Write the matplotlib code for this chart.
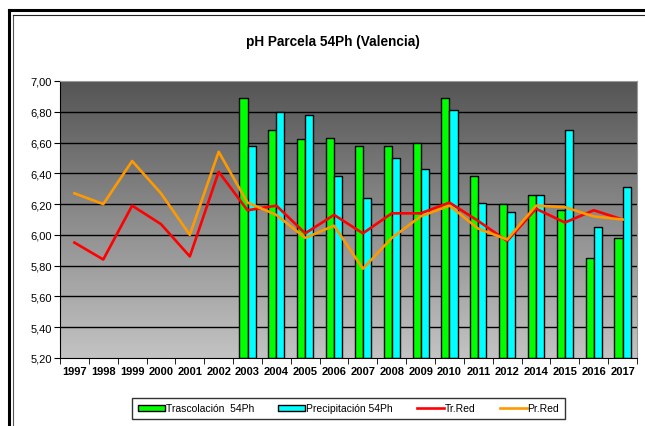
import numpy as np
import matplotlib.pyplot as plt
from matplotlib.lines import Line2D
from matplotlib.patches import Patch

plt.rcParams['font.family'] = ['Liberation Sans', 'DejaVu Sans']

years = ["1997", "1998", "1999", "2000", "2001", "2002", "2003", "2004", "2005", "2006",
         "2007", "2008", "2009", "2010", "2011", "2012", "2014", "2015", "2016", "2017"]
trascolacion = [None, None, None, None, None, None, 6.89, 6.68, 6.62, 6.63,
                6.58, 6.58, 6.60, 6.89, 6.38, 6.20, 6.26, 6.16, 5.85, 5.98]
precipitacion = [None, None, None, None, None, None, 6.58, 6.80, 6.78, 6.38,
                 6.24, 6.50, 6.43, 6.81, 6.21, 6.15, 6.26, 6.68, 6.05, 6.31]
tr_red = [5.95, 5.84, 6.19, 6.07, 5.86, 6.41, 6.16, 6.19, 6.01, 6.13,
          6.01, 6.14, 6.14, 6.21, 6.09, 5.96, 6.17, 6.08, 6.16, 6.10]
pr_red = [6.27, 6.20, 6.48, 6.27, 6.00, 6.54, 6.21, 6.13, 5.98, 6.06,
          5.78, 5.98, 6.12, 6.19, 6.04, 5.97, 6.19, 6.18, 6.12, 6.10]

ymin, ymax = 5.2, 7.0
x = np.arange(len(years))

fig = plt.figure(figsize=(6.45, 4.27), dpi=100)
ax = fig.add_axes([60 / 645, 1 - 359 / 427, 577 / 645, 277 / 427])

# gradient background of the plot area
grad = np.linspace(0, 1, 256).reshape(-1, 1)
top = np.array([85, 85, 85]) / 255
bot = np.array([195, 195, 195]) / 255
img = top + (bot - top) * grad[:, :, None]
ax.imshow(img, extent=[-0.5, len(years) - 0.5, ymin, ymax], aspect='auto', zorder=0)

for v in np.arange(5.4, 7.0, 0.2):
    ax.axhline(v, color='black', lw=1, zorder=1)

w = 0.28
for i in range(len(years)):
    if trascolacion[i] is not None:
        ax.bar(x[i] - w / 2, trascolacion[i] - ymin, w, bottom=ymin, color='#00ff00',
               edgecolor='black', lw=1, zorder=2)
    if precipitacion[i] is not None:
        ax.bar(x[i] + w / 2, precipitacion[i] - ymin, w, bottom=ymin, color='#00ffff',
               edgecolor='black', lw=1, zorder=2)

ax.plot(x, tr_red, color='#ff0000', lw=1.9, zorder=3)
ax.plot(x, pr_red, color='#ff9900', lw=1.9, zorder=4)

ax.set_xlim(-0.5, len(years) - 0.5)
ax.set_ylim(ymin, ymax)
ax.set_yticks(np.arange(5.2, 7.01, 0.2))
ax.set_yticklabels([f"{v:.2f}".replace(".", ",") for v in np.arange(5.2, 7.01, 0.2)], fontsize=8)
ax.set_xticks(x)
ax.set_xticklabels(years, fontsize=8, fontweight='bold')
ax.set_xticks(np.arange(-0.5, len(years), 1), minor=True)
ax.tick_params(axis='x', which='major', length=0, pad=6)
ax.tick_params(axis='x', which='minor', length=4, color='black')
ax.tick_params(axis='y', length=4, pad=2)
for s in ['top', 'right']:
    ax.spines[s].set_color('#999999')
    ax.spines[s].set_linewidth(0.8)

fig.text(333 / 645, 1 - 42 / 427, "pH Parcela 54Ph (Valencia)", ha='center', va='center',
         fontsize=9.8, fontweight='bold')

handles = [Patch(facecolor='#00ff00', edgecolor='black', label='Trascolación  54Ph'),
           Patch(facecolor='#00ffff', edgecolor='black', label='Precipitación 54Ph'),
           Line2D([], [], color='#ff0000', lw=1.9, label='Tr.Red'),
           Line2D([], [], color='#ff9900', lw=1.9, label='Pr.Red')]
leg = fig.legend(handles=handles, loc='center', ncol=4,
                 bbox_to_anchor=(348.5 / 645, 1 - 409.5 / 427), fontsize=7.5,
                 frameon=True, fancybox=False, edgecolor='black', handlelength=2.6,
                 handleheight=0.6, handletextpad=0.1, columnspacing=2.3,
                 borderpad=0.5)
leg.get_frame().set_linewidth(1)

# outer chart frame (cropped on right and bottom)
fig.add_artist(Line2D([9 / 645, 9 / 645], [0, 1 - 10.5 / 427], color='black', lw=2.2))
fig.add_artist(Line2D([9 / 645, 1], [1 - 10.5 / 427, 1 - 10.5 / 427], color='black', lw=2.2))
fig.add_artist(Line2D([12.5 / 645, 12.5 / 645], [0, 1 - 16 / 427], color='#555555', lw=0.8))
fig.add_artist(Line2D([12.5 / 645, 1], [1 - 16 / 427, 1 - 16 / 427], color='#222222', lw=0.8))

fig.savefig("out.png", dpi=100)
